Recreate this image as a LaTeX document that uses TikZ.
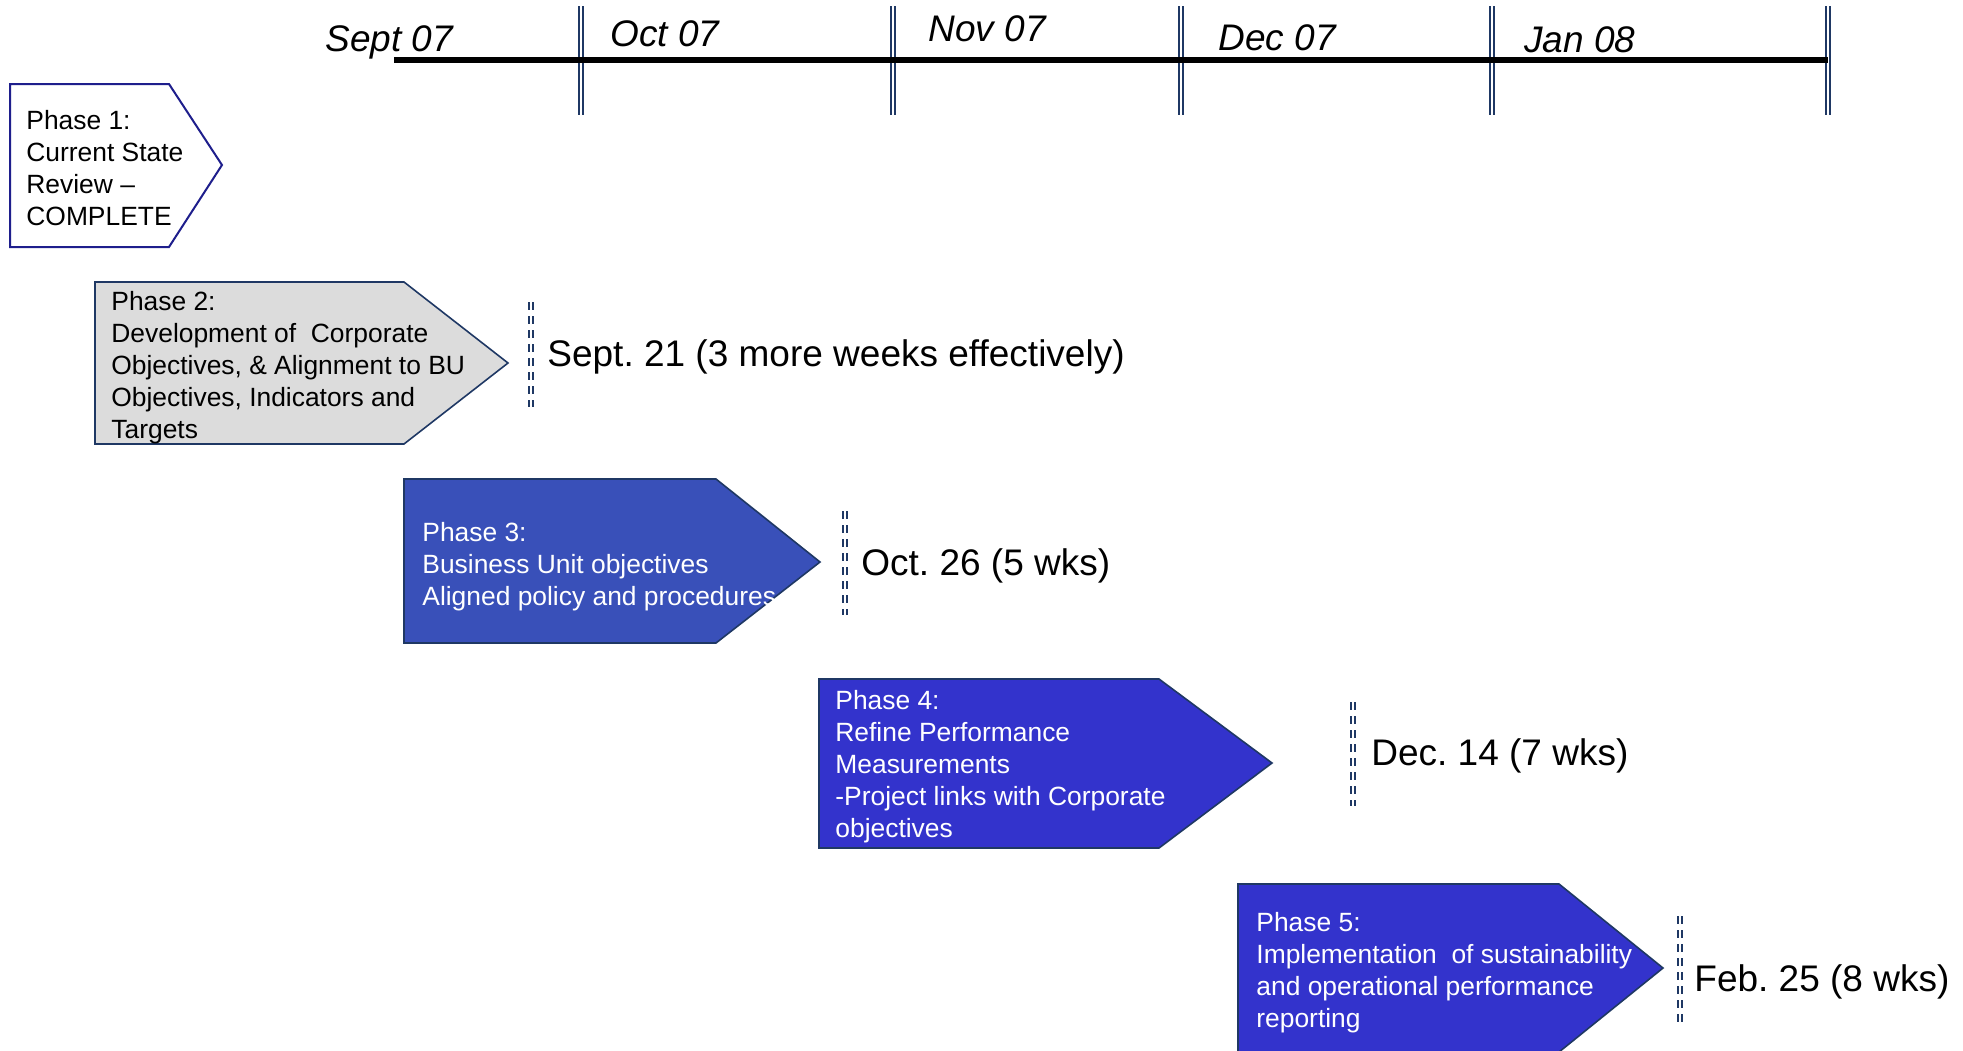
\documentclass[tikz,border=0pt]{standalone}
\usepackage{fontspec}
\setmainfont{Liberation Sans}
\usepackage{tikz}
\usetikzlibrary{calc,positioning}
\definecolor{edgeblue}{RGB}{31,56,100}
\definecolor{navyline}{RGB}{30,30,140}
\definecolor{greyfill}{RGB}{220,220,220}
\definecolor{phasethree}{RGB}{57,80,185}
\definecolor{phaseblue}{RGB}{51,51,204}
\frenchspacing
\tikzset{
%Define style for the time line and its ticks
timeline/.style={line width=3pt, black},
month tick/.style={draw=edgeblue, double, double distance=0.9pt, line width=1pt},
due line/.style={draw=edgeblue, double, double distance=1pt, line width=0.8pt, dash pattern=on 4pt off 3pt},
%Define style for the texts
month label/.style={font=\fontsize{18.5}{22}\selectfont\itshape, inner sep=0pt, anchor=west},
due label/.style={font=\fontsize{18.5}{22}\selectfont, inner sep=0pt, anchor=west},
phase text/.style={font=\fontsize{13.2}{16}\selectfont, align=left, inner sep=0pt, anchor=west},
%Define style for the phase arrows
open phase/.style={draw=navyline, line width=1pt, fill=white},
grey phase/.style={draw=edgeblue, line width=0.8pt, fill=greyfill},
blue phase/.style={draw=edgeblue, line width=0.8pt, fill=phaseblue},
}

\begin{document}
\begin{tikzpicture}[x=0.5pt, y=-0.5pt]
    \useasboundingbox (0,0) rectangle (1963,1050);
    \clip (0,0) rectangle (1963,1050);
    %Draw month ticks
    \draw[month tick] (581,6) -- (581,115);
    \draw[month tick] (893,6) -- (893,115);
    \draw[month tick] (1181,6) -- (1181,115);
    \draw[month tick] (1492,6) -- (1492,115);
    \draw[month tick] (1828,6) -- (1828,115);
    %Draw time line
    \coordinate (tlstart) at (394,60);
    \coordinate (tlend) at (1828,60);
    \draw[timeline] (tlstart) -- (tlend);
    \node[month label] (sept) at (325,42) {Sept 07};
    \node[month label] (oct) at (610,34) {Oct 07};
    \node[month label] (nov) at (928,29) {Nov 07};
    \node[month label] (dec) at (1218,38) {Dec 07};
    \node[month label] (jan) at (1524,40) {Jan 08};

    %%Phase 1
    \draw[open phase] (10,84) -- (169,84) -- (222,165) -- (169,247) -- (10,247) -- cycle;
    \node[phase text] (phaseone) at (26,168)
    {Phase 1:\\Current State\\Review --\\COMPLETE};
    %%Phase 2
    \draw[grey phase] (95,282) -- (404,282) -- (508,363) -- (404,444) -- (95,444) -- cycle;
    \node[phase text] (phasetwo) at (111,368)
    {Phase 2:\\Development of\ \ Corporate\\Objectives, \& Alignment to BU\\Objectives, Indicators and\\Targets};
    %%Phase 3
    \draw[blue phase, fill=phasethree] (404,479) -- (716,479) -- (820,562) -- (716,643) -- (404,643) -- cycle;
    \node[phase text, text=white] (phasethr) at (422,567)
    {Phase 3:\\Business Unit objectives\\Aligned policy and procedures};
    %%Phase 4
    \draw[blue phase] (819,679) -- (1159,679) -- (1272,763) -- (1159,848) -- (819,848) -- cycle;
    \node[phase text, text=white] (phasefour) at (835,767)
    {Phase 4:\\Refine Performance\\Measurements\\-Project links with Corporate\\objectives};
    %%Phase 5
    \draw[blue phase] (1238,884) -- (1559,884) -- (1663,968) -- (1559,1052) -- (1238,1052) -- cycle;
    \node[phase text, text=white] (phasefive) at (1256,973)
    {Phase 5:\\Implementation\ \ of sustainability\\and operational performance\\reporting};

    %Due dates
    \draw[due line] (531,302) -- (531,407);
    \node[due label] (dueone) at (547,357) {Sept. 21 (3 more weeks effectively)};
    \draw[due line] (845,511) -- (845,615);
    \node[due label] (duetwo) at (861,566) {Oct. 26 (5 wks)};
    \draw[due line] (1353,702) -- (1353,806);
    \node[due label] (duethr) at (1371,756) {Dec. 14 (7 wks)};
    \draw[due line] (1680,916) -- (1680,1022);
    \node[due label] (duefour) at (1694,982) {Feb. 25 (8 wks)};
\end{tikzpicture}
\end{document}
